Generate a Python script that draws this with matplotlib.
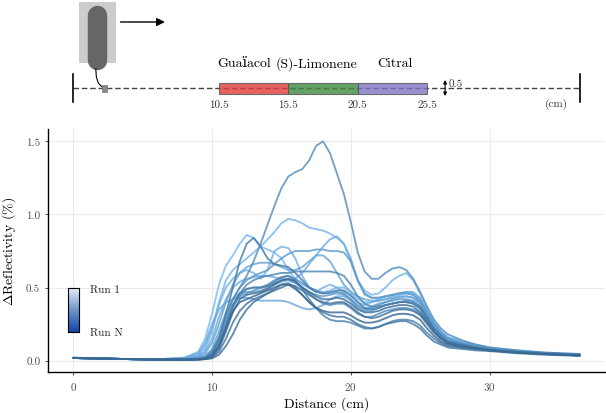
import numpy as np
import matplotlib
matplotlib.use("Agg")
import matplotlib.pyplot as plt
from matplotlib.colors import LinearSegmentedColormap
from matplotlib.patches import Rectangle

plt.rcParams['font.family'] = ['cmr10', 'DejaVu Serif']
plt.rcParams['mathtext.fontset'] = 'cm'
plt.rcParams['axes.formatter.use_mathtext'] = True

# distance grid (cm)
distance = [0, 3, 6, 8,
            9, 9.5, 10, 10.5, 11, 11.5, 12, 12.5, 13, 13.5, 14, 14.5, 15, 15.5,
            16, 16.5, 17, 17.5, 18, 18.5, 19, 19.5, 20, 20.5, 21, 21.5, 22, 22.5,
            23, 23.5, 24, 24.5, 25, 25.5, 26, 26.5, 27,
            28, 29, 30, 32, 34, 36.5]

# delta reflectivity (%) per run, run 1 first
run01 = [0.02, 0.012, 0.008, 0.02,
         0.06, 0.15, 0.32, 0.52, 0.65, 0.72, 0.80, 0.86, 0.84, 0.78, 0.76, 0.74, 0.70, 0.62,
         0.56, 0.52, 0.50, 0.48, 0.47, 0.48, 0.50, 0.50, 0.47, 0.42, 0.40, 0.40, 0.41, 0.42,
         0.44, 0.45, 0.46, 0.45, 0.40, 0.32, 0.24, 0.18, 0.15,
         0.12, 0.10, 0.085, 0.065, 0.05, 0.04]
run02 = [0.018, 0.012, 0.008, 0.015,
         0.04, 0.10, 0.22, 0.40, 0.55, 0.62, 0.66, 0.70, 0.74, 0.78, 0.83, 0.88, 0.94, 0.97,
         0.96, 0.94, 0.91, 0.90, 0.89, 0.87, 0.84, 0.80, 0.68, 0.55, 0.48, 0.45, 0.46, 0.50,
         0.55, 0.58, 0.60, 0.55, 0.46, 0.35, 0.26, 0.20, 0.16,
         0.13, 0.11, 0.09, 0.07, 0.055, 0.045]
run03 = [0.02, 0.012, 0.008, 0.015,
         0.03, 0.08, 0.20, 0.38, 0.50, 0.56, 0.60, 0.62, 0.60, 0.56, 0.62, 0.75, 0.78, 0.77,
         0.70, 0.58, 0.50, 0.47, 0.50, 0.52, 0.50, 0.47, 0.44, 0.40, 0.38, 0.40, 0.42, 0.44,
         0.45, 0.46, 0.47, 0.46, 0.42, 0.33, 0.25, 0.19, 0.15,
         0.12, 0.10, 0.085, 0.065, 0.05, 0.04]
run04 = [0.018, 0.012, 0.008, 0.012,
         0.03, 0.06, 0.15, 0.30, 0.42, 0.50, 0.54, 0.56, 0.57, 0.58, 0.58, 0.57, 0.56, 0.55,
         0.56, 0.60, 0.66, 0.72, 0.78, 0.83, 0.85, 0.80, 0.70, 0.55, 0.45, 0.43, 0.43, 0.44,
         0.45, 0.46, 0.47, 0.47, 0.43, 0.34, 0.26, 0.20, 0.16,
         0.13, 0.10, 0.085, 0.065, 0.05, 0.04]
run05 = [0.018, 0.012, 0.008, 0.02,
         0.05, 0.12, 0.25, 0.35, 0.40, 0.42, 0.43, 0.43, 0.42, 0.41, 0.41, 0.41, 0.41, 0.40,
         0.38, 0.36, 0.35, 0.36, 0.38, 0.42, 0.44, 0.44, 0.42, 0.38, 0.36, 0.37, 0.39, 0.40,
         0.42, 0.43, 0.44, 0.43, 0.39, 0.31, 0.23, 0.17, 0.14,
         0.11, 0.09, 0.08, 0.06, 0.05, 0.04]
run06 = [0.018, 0.012, 0.008, 0.01,
         0.02, 0.05, 0.12, 0.25, 0.40, 0.52, 0.60, 0.64, 0.66, 0.67, 0.67, 0.66, 0.64, 0.62,
         0.62, 0.64, 0.68, 0.72, 0.72, 0.68, 0.60, 0.52, 0.47, 0.44, 0.42, 0.41, 0.41, 0.42,
         0.43, 0.44, 0.44, 0.43, 0.39, 0.31, 0.23, 0.18, 0.14,
         0.12, 0.10, 0.08, 0.065, 0.05, 0.04]
run07 = [0.018, 0.012, 0.007, 0.008,
         0.015, 0.03, 0.08, 0.20, 0.33, 0.42, 0.46, 0.47, 0.47, 0.48, 0.50, 0.52, 0.54, 0.55,
         0.53, 0.50, 0.47, 0.45, 0.44, 0.45, 0.46, 0.45, 0.41, 0.36, 0.34, 0.34, 0.36, 0.38,
         0.39, 0.40, 0.40, 0.39, 0.35, 0.28, 0.21, 0.16, 0.13,
         0.11, 0.09, 0.075, 0.06, 0.05, 0.04]
run08 = [0.018, 0.012, 0.007, 0.008,
         0.015, 0.03, 0.07, 0.16, 0.30, 0.42, 0.50, 0.55, 0.58, 0.60, 0.62, 0.66, 0.70, 0.73,
         0.75, 0.75, 0.75, 0.76, 0.76, 0.75, 0.75, 0.74, 0.68, 0.55, 0.46, 0.43, 0.43, 0.44,
         0.45, 0.46, 0.46, 0.45, 0.41, 0.33, 0.25, 0.19, 0.15,
         0.12, 0.10, 0.085, 0.065, 0.05, 0.04]
run09 = [0.02, 0.012, 0.007, 0.008,
         0.012, 0.02, 0.05, 0.14, 0.27, 0.38, 0.44, 0.46, 0.48, 0.50, 0.52, 0.55, 0.57, 0.58,
         0.56, 0.53, 0.50, 0.48, 0.46, 0.46, 0.47, 0.46, 0.42, 0.37, 0.35, 0.36, 0.38, 0.40,
         0.41, 0.42, 0.42, 0.41, 0.37, 0.29, 0.22, 0.17, 0.13,
         0.11, 0.09, 0.075, 0.06, 0.05, 0.04]
run10 = [0.018, 0.012, 0.007, 0.01,
         0.012, 0.025, 0.06, 0.15, 0.30, 0.42, 0.50, 0.58, 0.68, 0.80, 0.93, 1.06, 1.18, 1.26,
         1.29, 1.31, 1.37, 1.47, 1.50, 1.42, 1.28, 1.14, 0.95, 0.74, 0.61, 0.56, 0.56, 0.60,
         0.63, 0.64, 0.62, 0.56, 0.47, 0.37, 0.28, 0.22, 0.18,
         0.14, 0.11, 0.09, 0.07, 0.055, 0.045]
run11 = [0.018, 0.012, 0.007, 0.008,
         0.01, 0.015, 0.04, 0.12, 0.25, 0.38, 0.45, 0.49, 0.50, 0.50, 0.51, 0.53, 0.55, 0.56,
         0.54, 0.50, 0.46, 0.42, 0.39, 0.38, 0.39, 0.39, 0.36, 0.32, 0.30, 0.30, 0.32, 0.34,
         0.35, 0.36, 0.36, 0.35, 0.32, 0.26, 0.20, 0.15, 0.12,
         0.10, 0.085, 0.075, 0.06, 0.05, 0.04]
run12 = [0.018, 0.012, 0.007, 0.008,
         0.01, 0.015, 0.04, 0.10, 0.22, 0.36, 0.46, 0.52, 0.55, 0.57, 0.58, 0.59, 0.60, 0.60,
         0.61, 0.61, 0.61, 0.61, 0.61, 0.61, 0.60, 0.58, 0.52, 0.44, 0.39, 0.37, 0.37, 0.38,
         0.39, 0.40, 0.41, 0.40, 0.37, 0.30, 0.22, 0.17, 0.13,
         0.11, 0.09, 0.075, 0.06, 0.05, 0.04]
run13 = [0.018, 0.012, 0.007, 0.006,
         0.008, 0.012, 0.03, 0.10, 0.24, 0.38, 0.46, 0.49, 0.50, 0.50, 0.51, 0.54, 0.57, 0.58,
         0.55, 0.49, 0.42, 0.36, 0.31, 0.28, 0.27, 0.27, 0.26, 0.24, 0.22, 0.22, 0.23, 0.25,
         0.27, 0.28, 0.28, 0.27, 0.24, 0.19, 0.15, 0.12, 0.10,
         0.09, 0.08, 0.07, 0.055, 0.045, 0.035]
run14 = [0.018, 0.012, 0.007, 0.008,
         0.012, 0.02, 0.05, 0.15, 0.32, 0.50, 0.68, 0.80, 0.84, 0.78, 0.70, 0.66, 0.65, 0.64,
         0.60, 0.55, 0.50, 0.47, 0.46, 0.47, 0.48, 0.48, 0.45, 0.40, 0.36, 0.35, 0.36, 0.38,
         0.39, 0.40, 0.40, 0.39, 0.36, 0.29, 0.22, 0.17, 0.13,
         0.11, 0.09, 0.075, 0.06, 0.05, 0.04]
run15 = [0.018, 0.012, 0.007, 0.006,
         0.008, 0.01, 0.02, 0.06, 0.15, 0.26, 0.34, 0.39, 0.42, 0.44, 0.46, 0.49, 0.52, 0.53,
         0.50, 0.45, 0.40, 0.36, 0.33, 0.31, 0.30, 0.30, 0.28, 0.25, 0.23, 0.22, 0.23, 0.25,
         0.26, 0.27, 0.27, 0.25, 0.22, 0.17, 0.13, 0.11, 0.09,
         0.08, 0.07, 0.065, 0.05, 0.04, 0.032]
run16 = [0.018, 0.012, 0.007, 0.006,
         0.007, 0.01, 0.015, 0.04, 0.10, 0.18, 0.28, 0.35, 0.40, 0.43, 0.46, 0.48, 0.50, 0.52,
         0.51, 0.48, 0.45, 0.42, 0.40, 0.39, 0.40, 0.40, 0.37, 0.33, 0.30, 0.29, 0.30, 0.32,
         0.34, 0.35, 0.35, 0.34, 0.31, 0.25, 0.19, 0.15, 0.12,
         0.10, 0.085, 0.07, 0.055, 0.045, 0.035]
run17 = [0.018, 0.012, 0.007, 0.006,
         0.008, 0.012, 0.025, 0.08, 0.20, 0.33, 0.42, 0.45, 0.46, 0.47, 0.49, 0.52, 0.55, 0.56,
         0.54, 0.50, 0.47, 0.44, 0.42, 0.42, 0.43, 0.42, 0.39, 0.35, 0.33, 0.33, 0.34, 0.36,
         0.37, 0.38, 0.38, 0.37, 0.33, 0.27, 0.20, 0.15, 0.12,
         0.10, 0.085, 0.07, 0.055, 0.045, 0.035]
run18 = [0.018, 0.012, 0.007, 0.006,
         0.008, 0.012, 0.03, 0.10, 0.22, 0.34, 0.40, 0.42, 0.44, 0.46, 0.48, 0.50, 0.52, 0.52,
         0.49, 0.45, 0.40, 0.36, 0.34, 0.33, 0.33, 0.33, 0.31, 0.28, 0.26, 0.26, 0.27, 0.29,
         0.31, 0.32, 0.32, 0.31, 0.28, 0.22, 0.17, 0.13, 0.11,
         0.09, 0.08, 0.07, 0.055, 0.045, 0.035]

runs = [run01, run02, run03, run04, run05, run06, run07, run08, run09,
        run10, run11, run12, run13, run14, run15, run16, run17, run18]

# odorant zones along the track (cm)
zone_names = ["Guaïacol", "(S)-Limonene", "Citral"]
zone_starts = [10.5, 15.5, 20.5]
zone_ends = [15.5, 20.5, 25.5]
zone_colors = ["#e03a3a", "#3f883f", "#7f74c4"]
zone_ticks = ["10.5", "15.5", "20.5", "25.5"]
track_length = 36.5

W, H = 606, 414
fig = plt.figure(figsize=(W / 100, H / 100), dpi=100)

x_lo, x_hi = -1.825, 38.325

# ---- main plot ----
ax = fig.add_axes([48 / W, (H - 373) / H, 557 / W, 243 / H])
line_cmap = LinearSegmentedColormap.from_list("runs", ["#78bbf2", "#386892"])
for i, r in enumerate(runs):
    ax.plot(distance, r, color=line_cmap(i / (len(runs) - 1)), lw=1.35,
            alpha=0.82, solid_capstyle="round", solid_joinstyle="round")

ax.set_xlim(x_lo, x_hi)
ax.set_ylim(-0.078, 1.585)
ax.set_xticks([0, 10, 20, 30])
ax.set_yticks([0.0, 0.5, 1.0, 1.5])
ax.set_yticklabels(["0.0", "0.5", "1.0", "1.5"])
ax.grid(True, color="#ebebeb", lw=0.8)
ax.set_axisbelow(True)
for s in ["top", "right"]:
    ax.spines[s].set_visible(False)
for s in ["left", "bottom"]:
    ax.spines[s].set_color("black")
    ax.spines[s].set_linewidth(1.0)
ax.tick_params(length=2.5, width=0.6, color="#333333", labelsize=8,
               labelcolor="#4d4d4d", pad=3)
ax.set_xlabel("Distance (cm)", fontsize=10, labelpad=3)
ax.set_ylabel(r"$\Delta$Reflectivity (%)", fontsize=10, labelpad=6)

# run colour key
cax = fig.add_axes([68 / W, (H - 333) / H, 11 / W, 44 / H])
key_cmap = LinearSegmentedColormap.from_list("key", ["#e6ecf6", "#6f95cc", "#1447a6"])
cax.imshow(np.linspace(0, 1, 100).reshape(-1, 1), aspect="auto", cmap=key_cmap,
           extent=[0, 1, 1, 0])
cax.set_xticks([])
cax.set_yticks([])
for s in cax.spines.values():
    s.set_linewidth(0.8)
fig.text(90 / W, (H - 290) / H, "Run 1", fontsize=8, va="center", color="#222222")
fig.text(90 / W, (H - 333) / H, "Run N", fontsize=8, va="center", color="#222222")

# ---- track diagram ----
top = fig.add_axes([48 / W, (H - 125) / H, 557 / W, 125 / H])
top.set_xlim(x_lo, x_hi)
top.set_ylim(125, 0)
top.axis("off")

y_track = 89
top.plot([0, track_length], [y_track, y_track], color="#444444", lw=1.0,
         dashes=(4, 2), zorder=2)
top.plot([0, 0], [75, 103], color="black", lw=1.2)
top.plot([track_length, track_length], [75, 103], color="black", lw=1.2)

for a, b, c in zip(zone_starts, zone_ends, zone_colors):
    top.add_patch(Rectangle((a, 83.5), b - a, 11, facecolor=c, alpha=0.8,
                            edgecolor="#555555", lw=0.8, zorder=3))
top.text(14.25, 64, zone_names[0], ha="right", va="center", fontsize=10)
top.text(14.55, 64, zone_names[1], ha="left", va="center", fontsize=10)
top.text(23.17, 64, zone_names[2], ha="center", va="center", fontsize=10)
for x, lab in zip(zone_starts + [zone_ends[-1]], zone_ticks):
    top.text(x, 105, lab, ha="center", va="center", fontsize=8, color="#333333")
top.text(34.8, 104, "(cm)", ha="center", va="center", fontsize=8, color="#333333")

# thickness marker
top.annotate("", xy=(26.8, 81), xytext=(26.8, 97),
             arrowprops=dict(arrowstyle="<|-|>", color="black", lw=0.8,
                             mutation_scale=5, shrinkA=0, shrinkB=0))
top.text(27.05, 84, "0.5", ha="left", va="center", fontsize=8, color="#333333")

# sensor sketch
top.add_patch(Rectangle((0.43, 3), 2.66, 61, facecolor="#cccccc", edgecolor="none"))
top.plot([1.7, 1.7], [16, 61], color="#666666", lw=14, solid_capstyle="round")
top.plot([1.62, 1.66, 1.8, 2.0, 2.2], [70, 78, 84, 87, 89], color="black", lw=0.8)
top.add_patch(Rectangle((2.05, 86), 0.38, 6.5, facecolor="#8a8a8a",
                        edgecolor="#777777", lw=0.5, zorder=4))
top.annotate("", xy=(6.6, 23), xytext=(3.4, 23),
             arrowprops=dict(arrowstyle="-|>", color="black", lw=1.0,
                             mutation_scale=12, shrinkA=0, shrinkB=0))

fig.savefig("out.png", dpi=100)
